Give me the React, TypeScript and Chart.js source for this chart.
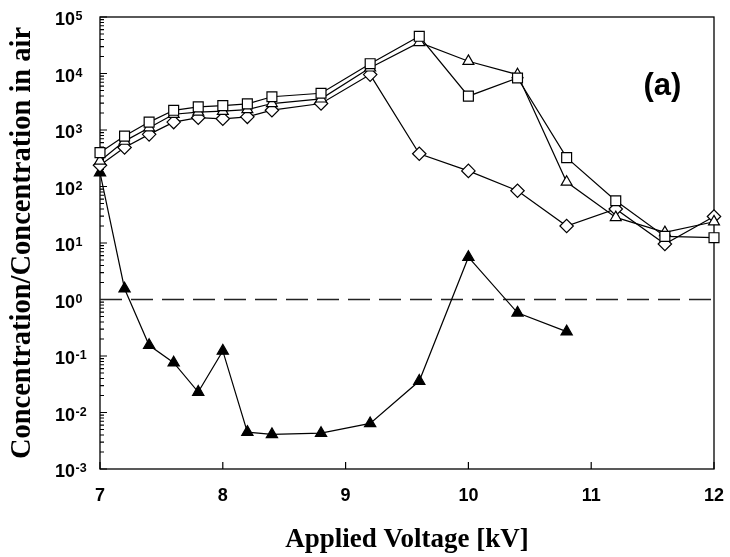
import React, { useEffect, useRef } from "react";
import { Chart, registerables } from "chart.js";

Chart.register(...registerables);

const voltage = [7, 7.2, 7.4, 7.6, 7.8, 8.0, 8.2, 8.4, 8.8, 9.2, 9.6, 10.0, 10.4, 10.8, 11.2, 11.6, 12.0];
const squareSeries = [398, 780, 1380, 2230, 2570, 2700, 2900, 3880, 4470, 14900, 45500, 3970, 8330, 325, 56, 13.1, 12.4];
const openTriangleSeries = [282, 636, 1100, 1900, 2080, 2150, 2300, 2940, 3560, 12600, 35500, 16500, 9560, 120, 28.4, 15.4, 23.8];
const diamondSeries = [238, 490, 837, 1380, 1650, 1580, 1710, 2240, 2940, 9560, 380, 189, 84, 20, 40, 9.6, 29.5];
const filledVoltage = [7, 7.2, 7.4, 7.6, 7.8, 8.0, 8.2, 8.4, 8.8, 9.2, 9.6, 10.0, 10.4, 10.8];
const filledTriangleSeries = [176, 1.55, 0.155, 0.076, 0.023, 0.123, 0.0045, 0.0041, 0.0043, 0.0064, 0.036, 5.6, 0.58, 0.27];
const referenceVoltage = [7, 12];
const referenceLevel = [1, 1];

const yDecades = [-3, -2, -1, 0, 1, 2, 3, 4, 5];
const xTicks = [7, 8, 9, 10, 11, 12];
const panelLabel = "(a)";
const xTitle = "Applied Voltage [kV]";
const yTitle = "Concentration/Concentration in air";

const pts = (xs: number[], ys: number[]) => xs.map((x, i) => ({ x, y: ys[i] }));

const framePlugin = {
  id: "frameTicks",
  beforeDatasetsDraw(chart: any) {
    const { ctx, chartArea, scales } = chart;
    const { left, right, top, bottom } = chartArea;
    const y = scales.y;
    const x = scales.x;
    ctx.save();
    ctx.strokeStyle = "#000";
    ctx.lineWidth = 1.2;
    ctx.beginPath();
    for (const d of yDecades) {
      const py = y.getPixelForValue(Math.pow(10, d));
      ctx.moveTo(left, py);
      ctx.lineTo(left + 7, py);
      if (d < 5) {
        for (let m = 2; m <= 9; m++) {
          const pm = y.getPixelForValue(m * Math.pow(10, d));
          ctx.moveTo(left, pm);
          ctx.lineTo(left + 4, pm);
        }
      }
    }
    for (const t of xTicks) {
      const px = x.getPixelForValue(t);
      ctx.moveTo(px, bottom);
      ctx.lineTo(px, bottom - 7);
    }
    ctx.stroke();
    ctx.lineWidth = 1.3;
    ctx.strokeRect(left, top, right - left, bottom - top);

    ctx.fillStyle = "#000";
    // y tick labels: 10 with superscript exponent
    ctx.textAlign = "left";
    ctx.textBaseline = "alphabetic";
    for (const d of yDecades) {
      const py = y.getPixelForValue(Math.pow(10, d));
      ctx.font = "bold 18px 'Liberation Sans', Arial, sans-serif";
      const base = "10";
      ctx.fillText(base, 55, py + 8.4);
      const w = ctx.measureText(base).width;
      ctx.font = "bold 12.5px 'Liberation Sans', Arial, sans-serif";
      ctx.fillText(String(d), 55 + w + 0.5, py + 3.4);
    }
    // x tick labels
    ctx.textAlign = "center";
    ctx.font = "bold 18px 'Liberation Sans', Arial, sans-serif";
    for (const t of xTicks) {
      ctx.fillText(String(t), x.getPixelForValue(t), bottom + 31.5);
    }
    ctx.restore();
  },
  afterDatasetsDraw(chart: any) {
    const { ctx, scales } = chart;
    ctx.save();
    ctx.fillStyle = "#000";
    ctx.font = "bold 31px 'Liberation Sans', Arial, sans-serif";
    ctx.textAlign = "center";
    ctx.textBaseline = "middle";
    ctx.fillText(panelLabel, scales.x.getPixelForValue(11.58), scales.y.getPixelForValue(10000) + 13);
    ctx.restore();
  },
};

export default function App() {
  const ref = useRef<HTMLCanvasElement | null>(null);
  useEffect(() => {
    document.body.style.margin = "0";
    const canvas = ref.current;
    if (!canvas) return;
    const common = {
      borderColor: "#000",
      borderWidth: 1.2,
      pointBorderColor: "#000",
      pointBorderWidth: 1.2,
      pointRadius: 6.5,
      pointHoverRadius: 6.5,
      clip: false as const,
      tension: 0,
    };
    const chart = new Chart(canvas, {
      type: "line",
      data: {
        datasets: [
          {
            ...common,
            label: "squares",
            data: pts(voltage, squareSeries),
            pointStyle: "rect",
            pointRadius: 7,
            pointBackgroundColor: "#fff",
            order: 1,
          },
          {
            ...common,
            label: "open triangles",
            data: pts(voltage, openTriangleSeries),
            pointStyle: "triangle",
            pointRadius: 6.3,
            pointBackgroundColor: "#fff",
            order: 2,
          },
          {
            ...common,
            label: "diamonds",
            data: pts(voltage, diamondSeries),
            pointStyle: "rectRot",
            pointRadius: 6.7,
            pointBackgroundColor: "#fff",
            order: 3,
          },
          {
            ...common,
            label: "filled triangles",
            data: pts(filledVoltage, filledTriangleSeries),
            pointStyle: "triangle",
            pointRadius: 6.5,
            pointBackgroundColor: "#000",
            order: 4,
          },
          {
            label: "reference",
            data: pts(referenceVoltage, referenceLevel),
            borderColor: "#222",
            borderWidth: 1.4,
            borderDash: [22, 9],
            pointRadius: 0,
            order: 5,
          },
        ],
      },
      options: {
        animation: false,
        responsive: false,
        events: [],
        layout: { padding: { left: 0, right: 16, top: 17, bottom: 0 } },
        plugins: { legend: { display: false }, tooltip: { enabled: false } },
        scales: {
          x: {
            type: "linear",
            min: 7,
            max: 12,
            afterBuildTicks: (s: any) => {
              s.ticks = xTicks.map((v) => ({ value: v }));
            },
            afterFit: (s: any) => {
              s.height = 88;
            },
            grid: { display: false, drawTicks: false },
            border: { display: false },
            ticks: { display: false },
            title: {
              display: true,
              text: xTitle,
              color: "#000",
              font: { family: "'Liberation Serif', 'Times New Roman', serif", size: 27, weight: "bold" },
              padding: { top: 0, bottom: 1 },
            },
          },
          y: {
            type: "logarithmic",
            min: 1e-3,
            max: 1e5,
            afterBuildTicks: (s: any) => {
              s.ticks = yDecades.map((d) => ({ value: Math.pow(10, d) }));
            },
            afterFit: (s: any) => {
              s.width = 100;
            },
            grid: { display: false, drawTicks: false },
            border: { display: false },
            ticks: { display: false },
            title: {
              display: true,
              text: yTitle,
              color: "#000",
              font: { family: "'Liberation Serif', 'Times New Roman', serif", size: 28.5, weight: "bold" },
              padding: { top: 6, bottom: 0 },
            },
          },
        },
      },
      plugins: [framePlugin],
    } as any);
    return () => chart.destroy();
  }, []);
  return (
    <div style={{ width: 730, height: 557 }}>
      <canvas ref={ref} width={730} height={557} />
    </div>
  );
}
